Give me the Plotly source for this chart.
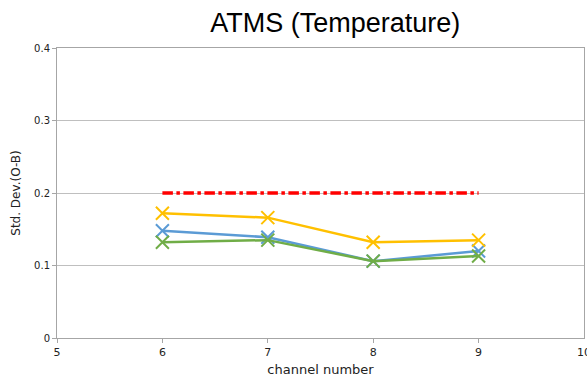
import plotly.graph_objects as go

channels = [6, 7, 8, 9]
yellow_vals = [0.172, 0.166, 0.132, 0.135]
blue_vals = [0.148, 0.139, 0.106, 0.120]
green_vals = [0.132, 0.135, 0.106, 0.113]
ref_x = [6, 9]
ref_vals = [0.2, 0.2]
x_ticks = [5, 6, 7, 8, 9, 10]

fig = go.Figure()
fig.add_trace(go.Scatter(x=ref_x, y=ref_vals, mode="lines",
                         line=dict(color="#FF0000", width=3.5, dash="dashdot")))
series = [(yellow_vals, "#FFC000"), (blue_vals, "#5B9BD5"), (green_vals, "#70AD47")]
for vals, col in [series[1], series[2], series[0]]:
    fig.add_trace(go.Scatter(x=channels, y=vals, mode="lines+markers",
                             line=dict(color=col, width=2.5),
                             marker=dict(symbol="x-thin-open", size=13,
                                         line=dict(color=col, width=2))))

fig.update_layout(
    width=587, height=384,
    margin=dict(l=57, r=3, t=48, b=46),
    plot_bgcolor="white", paper_bgcolor="white",
    showlegend=False,
    font=dict(family="Liberation Sans, Arial, sans-serif", color="#333"),
    title=dict(text="ATMS (Temperature)", x=0.571, xanchor="center",
               y=0.94, yanchor="middle",
               font=dict(size=27, color="black", family="Liberation Sans, Arial")),
)
# last tick label sits at the page edge (partly cut off, as in the reference)
fig.add_annotation(x=x_ticks[-1], y=0, xref="x", yref="paper", yshift=-6,
                   text=str(x_ticks[-1]), showarrow=False, xanchor="center",
                   yanchor="top", font=dict(size=11, family="DejaVu Sans", color="#222"))
fig.update_xaxes(range=[5, 10], tickvals=x_ticks[:-1],
                 showgrid=False, showline=True, linecolor="#A6A6A6", linewidth=1,
                 mirror=True, ticks="outside", ticklen=4, tickcolor="#A6A6A6",
                 tickfont=dict(size=11, family="DejaVu Sans", color="#222"),
                 title=dict(text="channel number", standoff=6,
                            font=dict(size=13, family="DejaVu Sans", color="#222")),
                 zeroline=False)
fig.update_yaxes(range=[0, 0.4], tickvals=[0, 0.1, 0.2, 0.3, 0.4],
                 ticktext=["0", "0.1", "0.2", "0.3", "0.4"],
                 showgrid=True, gridcolor="#BFBFBF", gridwidth=1,
                 showline=True, linecolor="#A6A6A6", linewidth=1, mirror=True,
                 ticks="outside", ticklen=4, tickcolor="#A6A6A6",
                 tickfont=dict(size=10, family="DejaVu Sans", color="#222"),
                 title=dict(text="Std. Dev.(O-B)", standoff=10,
                            font=dict(size=12, family="DejaVu Sans", color="#222")),
                 zeroline=False)

fig.write_html("out.html")
